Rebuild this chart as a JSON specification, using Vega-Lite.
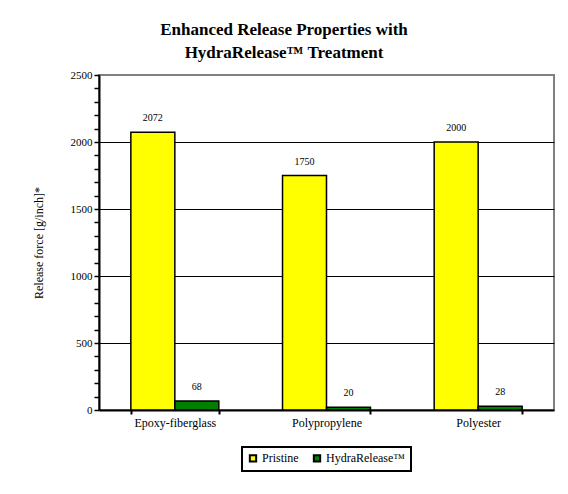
{
  "$schema": "https://vega.github.io/schema/vega-lite/v6.json",
  "width": 455,
  "height": 335,
  "autosize": {"type": "none"},
  "padding": {"left": 99, "top": 75, "right": 14, "bottom": 84},
  "background": "white",
  "title": {
    "text": ["Enhanced Release Properties with", "HydraRelease™ Treatment"],
    "font": "Liberation Serif",
    "fontSize": 17,
    "fontWeight": "bold",
    "lineHeight": 23,
    "offset": 7,
    "frame": "bounds",
    "anchor": "middle",
    "dx": -9,
    "color": "black"
  },
  "data": {
    "values": [
      {"material": "Epoxy-fiberglass", "series": "Pristine", "force": 2072},
      {"material": "Epoxy-fiberglass", "series": "HydraRelease™", "force": 68},
      {"material": "Polypropylene", "series": "Pristine", "force": 1750},
      {"material": "Polypropylene", "series": "HydraRelease™", "force": 20},
      {"material": "Polyester", "series": "Pristine", "force": 2000},
      {"material": "Polyester", "series": "HydraRelease™", "force": 28}
    ]
  },
  "encoding": {
    "x": {
      "field": "material",
      "type": "nominal",
      "sort": ["Epoxy-fiberglass", "Polypropylene", "Polyester"],
      "scale": {"paddingInner": 0.42, "paddingOuter": 0.21},
      "axis": {
        "title": null,
        "labelAngle": 0,
        "tickBand": "extent",
        "tickSize": 4,
        "tickWidth": 2,
        "tickColor": "black",
        "domainColor": "black",
        "domainWidth": 2,
        "labelFont": "Liberation Serif",
        "labelFontSize": 12,
        "labelColor": "black",
        "labelPadding": 3,
        "grid": false
      }
    },
    "xOffset": {
      "field": "series",
      "type": "nominal",
      "sort": ["Pristine", "HydraRelease™"],
      "scale": {"paddingInner": 0, "paddingOuter": 0}
    },
    "y": {
      "field": "force",
      "type": "quantitative",
      "scale": {"domain": [0, 2500], "nice": false},
      "axis": {
        "values": [0, 100, 200, 300, 400, 500, 600, 700, 800, 900, 1000, 1100, 1200, 1300, 1400, 1500, 1600, 1700, 1800, 1900, 2000, 2100, 2200, 2300, 2400, 2500],
        "format": "d",
        "labelExpr": "datum.value % 500 == 0 ? datum.label : ''",
        "title": "Release force [g/inch]*",
        "titleFont": "Liberation Serif",
        "titleFontSize": 12,
        "titleFontWeight": "normal",
        "titleColor": "black",
        "titlePadding": 25,
        "labelFont": "Liberation Serif",
        "labelFontSize": 11,
        "labelColor": "black",
        "labelPadding": 2,
        "tickSize": 5,
        "tickWidth": 1.5,
        "tickColor": "black",
        "domainColor": "black",
        "domainWidth": 2,
        "grid": true,
        "gridWidth": 1,
        "gridColor": {
          "condition": {"test": "datum.value % 500 == 0 && datum.value > 0 && datum.value < 2500", "value": "black"},
          "value": "transparent"
        }
      }
    }
  },
  "layer": [
    {
      "mark": {"type": "bar", "stroke": "black", "strokeWidth": 1.5},
      "encoding": {
        "color": {
          "field": "series",
          "type": "nominal",
          "scale": {"domain": ["Pristine", "HydraRelease™"], "range": ["#FFFF00", "#008000"]},
          "legend": {
            "title": null,
            "orient": "bottom",
            "direction": "horizontal",
            "offset": 19,
            "strokeColor": "black",
            "padding": 5,
            "symbolType": "square",
            "symbolSize": 40,
            "symbolStrokeColor": "black",
            "symbolOpacity": 1,
            "labelFont": "Liberation Serif",
            "labelFontSize": 12,
            "labelColor": "black",
            "labelOffset": 3,
            "columnPadding": 10
          }
        }
      }
    },
    {
      "mark": {"type": "text", "baseline": "alphabetic", "dy": -11, "font": "Liberation Serif", "fontSize": 10, "color": "black"},
      "encoding": {"text": {"field": "force", "type": "quantitative", "format": "d"}}
    }
  ],
  "config": {
    "view": {"stroke": "#808080", "strokeWidth": 2},
    "legend": {"layout": {"bottom": {"anchor": "middle"}}, "symbolStrokeWidth": 2, "strokeWidth": 2, "labelFont": "Liberation Serif"}
  }
}
